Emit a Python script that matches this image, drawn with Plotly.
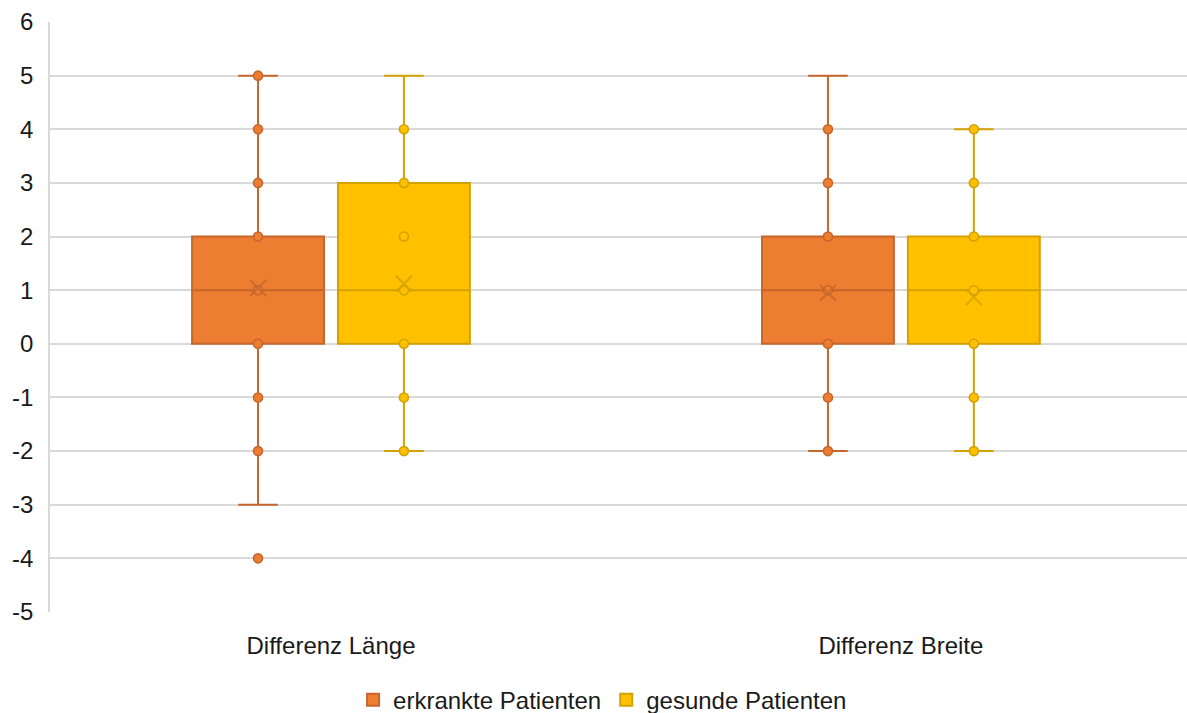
import plotly.graph_objects as go

categories = ["Differenz Länge", "Differenz Breite"]

# erkrankte Patienten
erk_q1 = [0, 0]
erk_median = [1, 1]
erk_q3 = [2, 2]
erk_low = [-3, -2]
erk_high = [5, 5]
erk_mean = [1.04, 0.95]
erk_points_laenge = [5, 4, 3, 2, 1, 0, -1, -2, -4]
erk_points_breite = [4, 3, 2, 1, 0, -1, -2]

# gesunde Patienten
ges_q1 = [0, 0]
ges_median = [1, 1]
ges_q3 = [3, 2]
ges_low = [-2, -2]
ges_high = [5, 4]
ges_mean = [1.12, 0.87]
ges_points_laenge = [4, 3, 2, 1, 0, -1, -2]
ges_points_breite = [4, 3, 2, 1, 0, -1, -2]

y_tickvals = [-5, -4, -3, -2, -1, 0, 1, 2, 3, 4, 5, 6]
y_ticktext = ["-5", "-4", "-3", "-2", "-1", "0", "1", "2", "3", "4", "5", "6"]

ERK_FILL = "#ED7D31"
ERK_LINE = "#C6662C"
GES_FILL = "#FFC000"
GES_LINE = "#D4A200"

FONT = "Liberation Sans, Arial, sans-serif"
TXT = "#1a1a1a"

fig = go.Figure()

series = [
    ("erkrankte Patienten", "erk", ERK_FILL, ERK_LINE, erk_q1, erk_median, erk_q3, erk_low, erk_high,
     erk_mean, erk_points_laenge, erk_points_breite),
    ("gesunde Patienten", "ges", GES_FILL, GES_LINE, ges_q1, ges_median, ges_q3, ges_low, ges_high,
     ges_mean, ges_points_laenge, ges_points_breite),
]

for name, grp, fill, line, q1, med, q3, low, high, mean, pl, pb in series:
    fig.add_trace(go.Box(
        x=categories, q1=q1, median=med, q3=q3, lowerfence=low, upperfence=high,
        name=name, fillcolor=fill, line=dict(color=line, width=2),
        whiskerwidth=0.3, boxpoints=False,
        alignmentgroup="a", offsetgroup=grp, legendgroup=grp,
        hoverinfo="skip",
    ))
    # inner points
    px = [categories[0]] * len(pl) + [categories[1]] * len(pb)
    py = pl + pb
    fig.add_trace(go.Box(
        x=px, y=py, name=name, boxpoints="all", jitter=0, pointpos=0,
        fillcolor="rgba(0,0,0,0)", line=dict(color="rgba(0,0,0,0)", width=0),
        whiskerwidth=0,
        marker=dict(color=fill, size=9, line=dict(color=line, width=1.6)),
        alignmentgroup="a", offsetgroup=grp, legendgroup=grp, showlegend=False,
        hoverinfo="skip",
    ))
    # mean markers
    fig.add_trace(go.Box(
        x=categories, y=mean, name=name, boxpoints="all", jitter=0, pointpos=0,
        fillcolor="rgba(0,0,0,0)", line=dict(color="rgba(0,0,0,0)", width=0),
        whiskerwidth=0,
        marker=dict(symbol="x-thin", size=16, color=line, opacity=0.8,
                    line=dict(color=line, width=2)),
        alignmentgroup="a", offsetgroup=grp, legendgroup=grp, showlegend=False,
        hoverinfo="skip",
    ))

fig.update_layout(
    width=1187, height=713,
    margin=dict(l=50, r=0, t=22, b=101),
    paper_bgcolor="white", plot_bgcolor="white",
    font=dict(family=FONT, size=24, color=TXT),
    boxmode="group", boxgap=0.488, boxgroupgap=0.096,
    showlegend=True,
    legend=dict(orientation="h", x=0.486, xanchor="center",
                yref="container", y=0.018, yanchor="middle",
                font=dict(size=24, family=FONT, color=TXT),
                itemsizing="constant", tracegroupgap=0),
    xaxis=dict(type="category", range=[-0.493, 1.502], showgrid=False, zeroline=False,
               showline=True, linecolor="white", linewidth=2,
               ticks="outside", ticklen=11, tickcolor="rgba(0,0,0,0)",
               tickfont=dict(size=24, family=FONT, color=TXT)),
    yaxis=dict(range=[-5, 6], tickmode="array", tickvals=y_tickvals, ticktext=y_ticktext,
               showgrid=True, gridcolor="#D9D9D9",
               gridwidth=1.5, zeroline=False, showline=True, linecolor="#D9D9D9",
               linewidth=1.5, ticks="outside", ticklen=10, tickcolor="rgba(0,0,0,0)",
               tickfont=dict(size=24, family=FONT, color=TXT)),
)

fig.write_html("out.html")
